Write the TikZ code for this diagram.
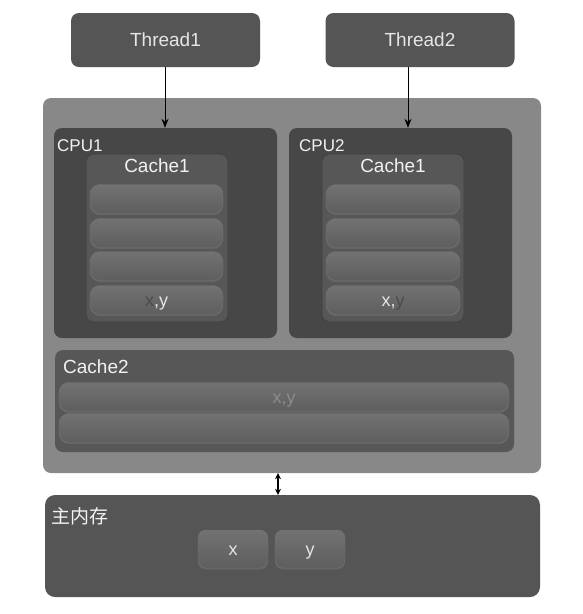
\documentclass[tikz,border=0pt]{standalone}
\usepackage{fontspec}
\setmainfont{Liberation Sans}
\newfontfamily\cjk{Noto Sans CJK SC}
\usetikzlibrary{arrows.meta,shadows}
\definecolor{outerg}{HTML}{888888}
\definecolor{cpug}{HTML}{474747}
\definecolor{threadg}{HTML}{555555}
\definecolor{cacheg}{HTML}{575757}
\definecolor{bartop}{HTML}{727272}
\definecolor{barbot}{HTML}{5E5E5E}
\definecolor{txt}{HTML}{E6E6E6}
\definecolor{memg}{HTML}{555555}
\tikzset{
  box/.style={rectangle, inner sep=0pt, rounded corners=8pt},
  threadbox/.style={box, fill=threadg, text=txt, font=\fontsize{19}{19}\selectfont, minimum width=189pt, minimum height=54pt},
  outerbox/.style={box, fill=outerg},
  cpubox/.style={box, fill=cpug, minimum width=223pt, minimum height=210pt},
  cachebox/.style={box, fill=cacheg, draw=black!75, line width=0.6pt, minimum width=142pt, minimum height=168pt},
  bar/.style={box, rounded corners=10pt, top color=bartop, bottom color=barbot, draw=black!55, line width=0.4pt,
     drop shadow={shadow xshift=0pt, shadow yshift=-1.5pt, opacity=0.35}, minimum height=29pt,
     font=\fontsize{18}{18}\selectfont, text height=13pt, text depth=0pt},
  lbl/.style={text=white!95!black, inner sep=0pt},
  arr/.style={-{Stealth[length=9pt,width=7pt]}, line width=1pt, black},
  darr/.style={{Stealth[length=6pt,width=6pt,inset=2pt]}-{Stealth[length=6pt,width=6pt,inset=2pt]}, line width=1.3pt, black}
}
\begin{document}
\begin{tikzpicture}[x=1pt,y=-1pt]
\useasboundingbox[fill=white] (0,0) rectangle (583,614);
% threads
\node[threadbox] (t1) at (165.5,40) {Thread1};
\node[threadbox] (t2) at (420,40) {Thread2};
% outer chip
\node[outerbox, minimum width=498pt, minimum height=375pt] (chip) at (292,285.5) {};
% CPUs
\node[cpubox] (cpu1) at (165.5,233) {};
\node[cpubox] (cpu2) at (400.5,233) {};
\node[lbl, anchor=base west, font=\fontsize{17}{17}\selectfont] (cpu1l) at (57,151) {CPU1};
\node[lbl, anchor=base west, font=\fontsize{17}{17}\selectfont] (cpu2l) at (299,151) {CPU2};
% cache1 boxes
\node[cachebox] (c1a) at (157,238) {};
\node[cachebox] (c1b) at (393,238) {};
\node[lbl, font=\fontsize{19}{19}\selectfont, anchor=base] (c1al) at (157,172) {Cache1};
\node[lbl, font=\fontsize{19}{19}\selectfont, anchor=base] (c1bl) at (393,172) {Cache1};
% bars cpu1
\node[bar, minimum width=133pt] (a1) at (156.5,199) {};
\node[bar, minimum width=133pt] (a2) at (156.5,233) {};
\node[bar, minimum width=133pt] (a3) at (156.5,266) {};
\node[bar, minimum width=133pt] (a4) at (156.5,300) {\textcolor{black!70}{x}\textcolor{txt}{,y}};
% bars cpu2
\node[bar, minimum width=134pt] (b1) at (393,199) {};
\node[bar, minimum width=134pt] (b2) at (393,233) {};
\node[bar, minimum width=134pt] (b3) at (393,266) {};
\node[bar, minimum width=134pt] (b4) at (393,300) {\textcolor{txt}{x,}\textcolor{black!70}{y}};
% cache2
\node[box, fill=cacheg, minimum width=459pt, minimum height=102pt] (c2) at (284.5,401) {};
\node[lbl, anchor=base west, font=\fontsize{19}{19}\selectfont] (c2l) at (63,373) {Cache2};
\node[bar, minimum width=450pt] (d1) at (284,397) {\textcolor{black!45}{x,y}};
\node[bar, minimum width=450pt] (d2) at (284,428) {};
% main memory
\node[box, rounded corners=10pt, fill=memg, minimum width=495pt, minimum height=102pt] (mem) at (292.5,546) {};
\node[lbl, anchor=west, font=\cjk\fontsize{19}{19}\selectfont] (meml) at (51,516) {主内存};
\node[bar, rounded corners=8pt, minimum width=70pt, minimum height=38pt] (mx) at (233,549) {\textcolor{txt}{x}};
\node[bar, rounded corners=8pt, minimum width=70pt, minimum height=38pt] (my) at (310,549) {\textcolor{txt}{y}};
% connectors
\coordinate (k1) at (165,0);
\coordinate (k2) at (408,0);
\coordinate (k3) at (278,0);
\draw[arr] (t1.south -| k1) -- (cpu1.north -| k1);
\draw[arr] (t2.south -| k2) -- (cpu2.north -| k2);
\draw[darr] (chip.south -| k3) -- (mem.north -| k3);
\end{tikzpicture}
\end{document}
